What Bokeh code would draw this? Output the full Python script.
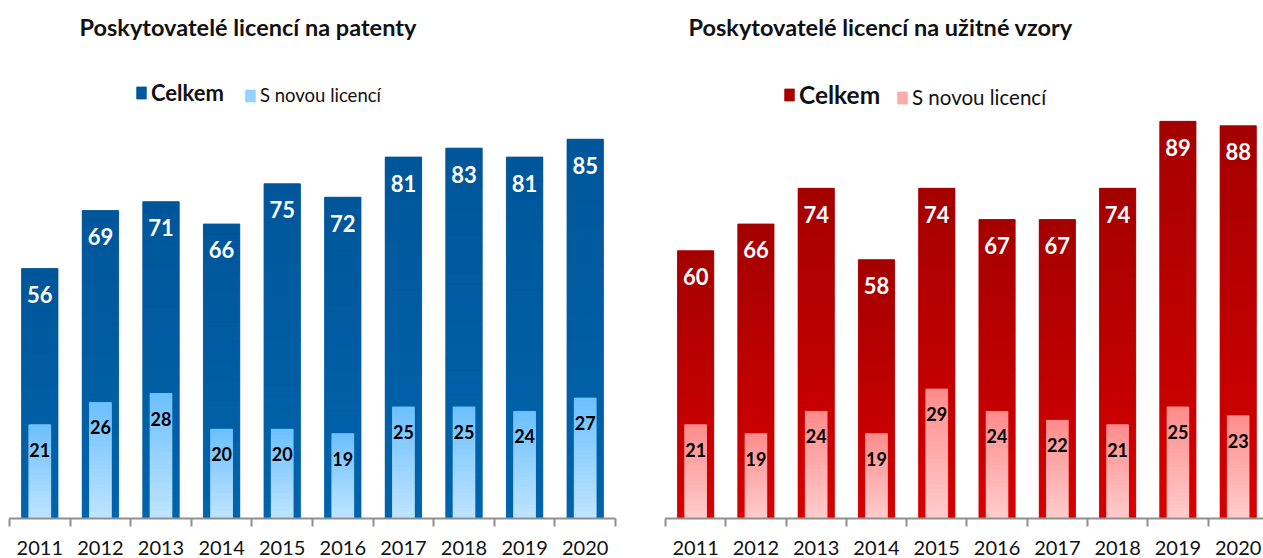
from bokeh.plotting import figure
from bokeh.models import (ColumnDataSource, Range1d, FixedTicker, LabelSet, Legend, LegendItem)
from bokeh.core.properties import value
from bokeh.layouts import row
from bokeh.embed import file_html
from bokeh.resources import INLINE

years = [2011, 2012, 2013, 2014, 2015, 2016, 2017, 2018, 2019, 2020]
patent_total = [56, 69, 71, 66, 75, 72, 81, 83, 81, 85]
patent_new = [21, 26, 28, 20, 20, 19, 25, 25, 24, 27]
model_total = [60, 66, 74, 58, 74, 67, 67, 74, 89, 88]
model_new = [21, 19, 24, 19, 29, 24, 22, 21, 25, 23]

title_left = "Poskytovatelé licencí na patenty"
title_right = "Poskytovatelé licencí na užitné vzory"
label_total = "Celkem"
label_new = "S novou licencí"

FONT = "Lato"
N_SLICES = 30


def hex2rgb(h):
    h = h.lstrip("#")
    return tuple(int(h[i:i + 2], 16) for i in (0, 2, 4))


def mix(c0, c1, t):
    a, b = hex2rgb(c0), hex2rgb(c1)
    return "#%02x%02x%02x" % tuple(int(round(a[i] + (b[i] - a[i]) * t)) for i in range(3))


def gradient_bars(p, xs, vals, width, c_bottom, c_top):
    # solid base bar underneath, gradient slices on top (hides seams)
    p.vbar(x=xs, top=vals, width=width, fill_color=mix(c_bottom, c_top, 0.5), line_color=None)
    data = dict(x=[], bottom=[], top=[], color=[])
    for k in range(N_SLICES):
        t0, t1 = k / N_SLICES, (k + 1) / N_SLICES
        col = mix(c_bottom, c_top, (t0 + t1) / 2)
        for x, v in zip(xs, vals):
            data["x"].append(x)
            data["bottom"].append(v * t0)
            data["top"].append(v * t1)
            data["color"].append(col)
    src = ColumnDataSource(data)
    return p.vbar(x="x", bottom="bottom", top="top", width=width, source=src,
                  fill_color="color", line_color="color", line_width=0.8)


def make_panel(title, total, new, dark_b, dark_t, light_b, light_t,
               frame_width, border_left, border_right, x_end, title_offset,
               leg1_loc, leg2_loc, leg1_size, leg2_size):
    p = figure(height=558, frame_width=frame_width, frame_height=473,
               output_backend="svg", toolbar_location=None,
               x_range=Range1d(2010.5, x_end), y_range=Range1d(0, 106),
               y_axis_location=None,
               min_border_left=border_left, min_border_right=border_right,
               min_border_top=45, min_border_bottom=40)
    p.outline_line_color = None
    p.grid.visible = False
    p.background_fill_color = "white"
    p.border_fill_color = "white"

    p.title.text = title
    p.title.text_font = FONT
    p.title.text_font_style = "bold"
    p.title.text_font_size = "23.5px"
    p.title.text_color = "#111111"
    p.title.align = "left"
    p.title.offset = title_offset
    p.title.standoff = 10

    r_dark = gradient_bars(p, years, total, 0.6, dark_b, dark_t)
    r_light = gradient_bars(p, years, new, 0.36, light_b, light_t)

    lab_total = ColumnDataSource(dict(x=years, y=total, t=[str(v) for v in total]))
    lab_new = ColumnDataSource(dict(x=years, y=new, t=[str(v) for v in new]))
    p.add_layout(LabelSet(x="x", y="y", text="t", source=lab_total, y_offset=-26,
                          text_align="center", text_baseline="middle",
                          text_font=value(FONT), text_font_style="bold", text_font_size="22px",
                          text_color="white"))
    p.add_layout(LabelSet(x="x", y="y", text="t", source=lab_new, y_offset=-25,
                          text_align="center", text_baseline="middle",
                          text_font=value(FONT), text_font_style="bold", text_font_size="18px",
                          text_color="black"))

    # axis: labels at category centres, tick marks at category boundaries
    ax = p.xaxis[0]
    bounds = [y - 0.5 for y in years] + [years[-1] + 0.5]
    ax.ticker = FixedTicker(ticks=years, minor_ticks=bounds)
    ax.major_tick_line_color = None
    ax.minor_tick_in = 0
    ax.minor_tick_out = 8
    ax.minor_tick_line_color = "#8f8f8f"
    ax.minor_tick_line_width = 2
    ax.axis_line_color = "#8f8f8f"
    ax.axis_line_width = 2
    ax.major_label_standoff = 14
    ax.major_label_text_font = FONT
    ax.major_label_text_font_size = "20px"
    ax.major_label_text_color = "#111111"

    n = len(years)
    for r, idx, lab, loc, style, size in (
            (r_dark, (N_SLICES - 3) * n, label_total, leg1_loc, "bold", leg1_size),
            (r_light, (N_SLICES // 2) * n, label_new, leg2_loc, "normal", leg2_size)):
        lg = Legend(items=[LegendItem(label=lab, renderers=[r], index=idx)], location=loc,
                    orientation="horizontal", padding=0, margin=0, spacing=0,
                    label_standoff=4, glyph_width=12, glyph_height=15,
                    label_text_font=FONT, label_text_font_style=style,
                    label_text_font_size=size, label_text_color="#111111",
                    border_line_alpha=0, background_fill_alpha=0)
        p.add_layout(lg)
    return p


left = make_panel(title_left, patent_total, patent_new,
                  "#0064ac", "#00569a", "#c0e5ff", "#6cc0ff",
                  frame_width=606, border_left=9, border_right=25, x_end=2020.5,
                  title_offset=70, leg1_loc=(126, 412), leg2_loc=(235, 412),
                  leg1_size="22px", leg2_size="18.5px")
right = make_panel(title_right, model_total, model_new,
                   "#d80000", "#a40000", "#ffcdcd", "#ff8c8c",
                   frame_width=598, border_left=25, border_right=0, x_end=2020.42,
                   title_offset=23, leg1_loc=(118, 409), leg2_loc=(231, 409),
                   leg1_size="24.5px", leg2_size="20.5px")

p = row(left, right)
open("out.html", "w").write(file_html(p, INLINE))
